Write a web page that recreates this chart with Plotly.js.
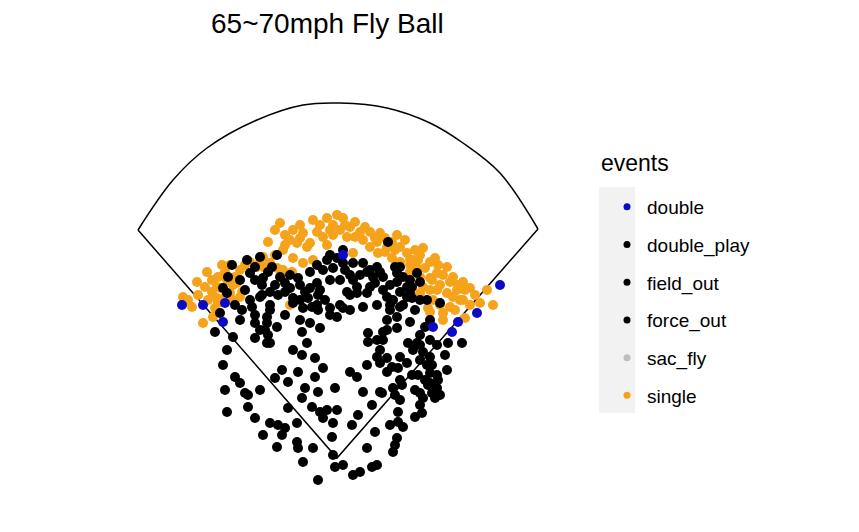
<!DOCTYPE html>
<html>
<head>
<meta charset="utf-8">
<script src="https://cdn.plot.ly/plotly-3.0.1.min.js"></script>
<style>
  body { margin: 0; background: #fff; }
  #chart { width: 859px; height: 532px; }
</style>
</head>
<body>
<div id="chart"></div>
<script>
// spray coordinates (hc_x / hc_y style, y grows toward home plate)
var foulX = [138, 337, 538];
var foulY = [230, 458, 229];
var wallX = [138, 173, 207, 257, 303, 340, 387, 430, 463, 500, 538];
var wallY = [230, 180, 148, 120, 105, 103, 108, 123, 143, 173, 229];

var doubleX = [182, 203, 225, 223, 343, 500, 477, 458, 452, 433];
var doubleY = [305, 305, 303, 322, 255, 285, 313, 322, 332, 327];

var singleX = [337, 343, 313, 280, 293, 303, 317, 323, 330, 350, 360, 370, 380, 397, 268, 290, 310, 327, 347, 363,
  377, 387, 400, 407, 423, 413, 430, 447, 453, 463, 470, 487, 493, 480, 460, 447, 437, 430, 420, 417,
  457, 463, 450, 443, 465, 433, 283, 263, 270, 257, 250, 230, 222, 207, 197, 217, 227, 237, 230, 240,
  183, 192, 213, 203, 290, 313, 303, 283, 293, 333, 297, 307, 245, 218, 233, 220, 242, 217, 277, 265,
  285, 292, 333, 340, 355, 370, 378, 392, 400, 410, 418, 435, 410, 437, 432, 423, 420, 430, 440, 458,
  453, 353, 428, 443, 430, 218, 233,
  300, 320, 327, 345, 355, 365, 375, 385, 392, 395, 405, 415, 420, 438, 443, 450, 465, 475, 470, 455,
  440, 425, 410, 385, 300, 285, 275, 285, 275, 260, 250, 240, 235, 225, 212, 205, 212, 225, 208, 198,
  188, 215];
var singleY = [215, 218, 220, 223, 230, 233, 232, 237, 230, 227, 232, 232, 233, 235, 242, 240, 243, 245, 237, 240,
  242, 247, 247, 253, 248, 260, 262, 267, 277, 282, 288, 290, 305, 303, 300, 293, 290, 278, 277, 268,
  290, 300, 307, 313, 318, 300, 250, 257, 263, 267, 273, 265, 265, 272, 282, 287, 280, 283, 293, 297,
  297, 307, 317, 323, 305, 260, 263, 270, 258, 235, 243, 247, 265, 277, 285, 288, 292, 298, 268, 268,
  277, 272, 225, 230, 237, 247, 253, 258, 262, 260, 260, 258, 272, 273, 280, 287, 293, 290, 285, 285,
  297, 253, 308, 320, 312, 303, 300,
  225, 225, 218, 225, 222, 227, 238, 238, 242, 250, 240, 250, 255, 265, 275, 282, 290, 295, 305, 310,
  305, 268, 265, 252, 238, 235, 230, 245, 255, 262, 262, 270, 277, 272, 280, 287, 292, 297, 300, 295,
  300, 308];

var doublePlayX = [343, 367, 380, 373, 357, 350, 397, 410, 440, 388, 323, 370];
var doublePlayY = [250, 272, 272, 277, 287, 295, 282, 293, 303, 242, 270, 270];

var forceOutX = [350, 340, 318, 303, 293, 270, 267, 310, 330, 350, 390, 397, 387, 387, 397, 403, 410, 417, 400, 267,
  377, 380, 447];
var forceOutY = [275, 305, 310, 308, 303, 305, 317, 323, 315, 310, 310, 317, 320, 330, 328, 305, 280, 273, 267, 343,
  340, 350, 370];

var fieldOutX = [247, 260, 277, 232, 228, 250, 255, 272, 263, 262, 280, 290, 275, 285, 270, 278, 262, 290, 293, 310,
  317, 327, 330, 337, 310, 318, 317, 330, 333, 300, 308, 223, 227,
  245, 260, 300, 317, 330, 343, 363, 377, 390, 400, 407, 420, 427, 220, 270, 267, 343, 353, 363, 377,
  383, 397, 403, 420, 407, 400, 393, 370, 353, 340, 367, 357, 347, 383, 387,
  337, 412, 368, 368, 383, 383, 377, 380, 387, 400, 408, 420, 425, 430, 430, 437, 417, 413, 423, 430,
  420, 432, 445, 448, 462, 407, 398, 392, 387, 350, 357, 367, 412, 418, 430, 430, 438, 433, 400, 402,
  393, 380, 363, 335,
  215, 233, 227, 223, 235, 240, 225, 242, 252, 240, 255, 260, 255, 268, 270, 277, 312, 302, 320, 307,
  293, 302, 315, 323, 298, 315, 282, 275, 288, 305, 318, 260, 245,
  248, 248, 227, 255, 270, 278, 285, 282, 263, 277, 297, 297, 298, 313, 303, 318, 288, 302, 312, 320,
  327, 323, 337, 333, 332, 333, 335, 343, 353, 360, 372, 377, 367, 375, 352, 358, 372, 382, 400, 398,
  390, 398, 403, 397, 395, 393, 415, 422, 423, 420, 432, 428, 435, 437,
  240, 255, 268, 285, 298, 305, 320, 325, 345, 360, 375, 390, 395, 412, 250, 235, 255, 265, 285, 300,
  415, 410, 420, 427, 425, 437, 440, 415, 420, 395];
var fieldOutY = [260, 257, 255, 265, 277, 273, 267, 267, 278, 285, 277, 275, 285, 283, 292, 295, 295, 288, 298, 272,
  265, 260, 255, 258, 288, 295, 283, 280, 268, 285, 298, 288, 293,
  290, 297, 300, 305, 308, 308, 307, 305, 305, 307, 297, 300, 300, 313, 310, 323, 263, 263, 263, 267,
  277, 273, 277, 282, 287, 292, 300, 287, 280, 280, 293, 293, 292, 290, 297,
  317, 298, 333, 342, 332, 340, 357, 363, 358, 357, 343, 335, 327, 320, 340, 345, 343, 350, 352, 357,
  360, 365, 355, 343, 343, 363, 368, 367, 372, 372, 377, 365, 375, 375, 373, 383, 380, 390, 380, 385,
  388, 392, 392, 388,
  332, 337, 350, 365, 377, 383, 390, 310, 307, 320, 323, 330, 338, 335, 343, 327, 307, 332, 328, 343,
  350, 355, 358, 368, 372, 377, 370, 378, 382, 388, 392, 390, 393,
  395, 407, 412, 418, 423, 425, 428, 435, 435, 447, 423, 442, 448, 448, 462, 480, 408, 398, 407, 412,
  410, 418, 410, 423, 437, 455, 467, 465, 475, 472, 467, 465, 448, 432, 425, 415, 405, 393, 400, 412,
  425, 422, 427, 438, 445, 452, 417, 413, 398, 393, 393, 385, 398, 388,
  280, 280, 272, 292, 278, 292, 290, 300, 270, 275, 283, 285, 267, 287, 300, 305, 315, 330, 315, 320,
  310, 322, 345, 365, 380, 375, 395, 390, 405, 395];

var sacFlyX = [];
var sacFlyY = [];

var eventNames = ['double', 'double_play', 'field_out', 'force_out', 'sac_fly', 'single'];
var eventColors = ['#0a0ac8', '#000000', '#000000', '#000000', '#bebebe', '#f5a31a'];

var font = 'Liberation Sans, Arial, sans-serif';

function pts(x, y, i) {
  return {
    type: 'scatter', mode: 'markers', x: x, y: y,
    name: eventNames[i], legendgroup: eventNames[i], showlegend: false,
    marker: {color: eventColors[i], size: 10, line: {width: 0}},
    hoverinfo: 'skip'
  };
}

var data = [
  {type: 'scatter', mode: 'lines', x: foulX, y: foulY, showlegend: false, hoverinfo: 'skip',
   line: {color: '#000', width: 1.5}},
  {type: 'scatter', mode: 'lines', x: wallX, y: wallY, showlegend: false, hoverinfo: 'skip',
   line: {color: '#000', width: 1.5, shape: 'spline'}},
  pts(singleX, singleY, 5),
  pts(sacFlyX, sacFlyY, 4),
  pts(fieldOutX, fieldOutY, 2),
  pts(forceOutX, forceOutY, 3),
  pts(doublePlayX, doublePlayY, 1),
  pts(doubleX, doubleY, 0)
];

// legend keys
eventNames.forEach(function (n, i) {
  data.push({
    type: 'scatter', mode: 'markers', x: [null], y: [null], name: n,
    legendgroup: n, showlegend: true,
    marker: {color: eventColors[i], size: 7}
  });
});

var layout = {
  width: 859, height: 532,
  margin: {l: 100, r: 279, t: 80, b: 32},
  paper_bgcolor: '#fff', plot_bgcolor: '#fff',
  font: {family: font, color: '#000'},
  xaxis: {range: [100, 580], visible: false},
  yaxis: {range: [500, 80], visible: false},
  title: {
    text: '65~70mph Fly Ball',
    font: {family: font, size: 28, color: '#000'},
    xref: 'container', x: 211 / 859, xanchor: 'left',
    yref: 'container', y: 1 - 13 / 532, yanchor: 'top'
  },
  showlegend: true,
  legend: {
    x: (607 - 100) / 480, xanchor: 'left',
    y: (500 - 188) / 420, yanchor: 'top',
    font: {family: font, size: 19, color: '#000'},
    tracegroupgap: 10,
    bgcolor: 'rgba(0,0,0,0)',
    traceorder: 'grouped'
  },
  annotations: [{
    text: 'events', xref: 'paper', yref: 'paper',
    x: (599 - 100) / 480, xanchor: 'left',
    y: (500 - 163) / 420, yanchor: 'middle',
    showarrow: false, font: {family: font, size: 23, color: '#000'}
  }],
  shapes: [{
    type: 'rect', xref: 'paper', yref: 'paper', layer: 'below',
    x0: (599 - 100) / 480, x1: (635 - 100) / 480,
    y0: (500 - 413) / 420, y1: (500 - 187) / 420,
    fillcolor: '#f2f2f2', line: {width: 0}
  }]
};

Plotly.newPlot('chart', data, layout, {displayModeBar: false, staticPlot: true});
</script>
</body>
</html>
